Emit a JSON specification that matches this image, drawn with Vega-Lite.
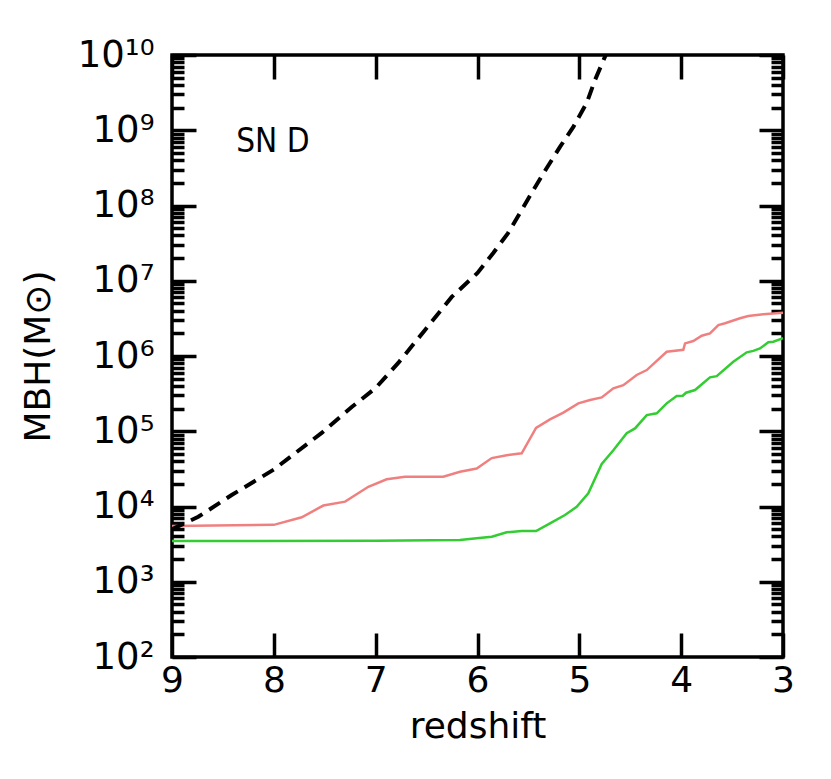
{
  "$schema": "https://vega.github.io/schema/vega-lite/v6.json",
  "width": 611,
  "height": 602,
  "autosize": {"type": "none"},
  "padding": {"left": 172, "top": 55, "right": 48, "bottom": 122},
  "background": "white",
  "config": {
    "view": {"stroke": "black", "strokeWidth": 3.5},
    "font": "DejaVu Sans",
    "axis": {"grid": false, "domain": false}
  },
  "datasets": {
    "curves": [
      {"s": "edd", "z": 9.0, "m": 5000},
      {"s": "edd", "z": 8.742, "m": 7300},
      {"s": "edd", "z": 8.414, "m": 14200},
      {"s": "edd", "z": 8.0, "m": 31000},
      {"s": "edd", "z": 7.792, "m": 51000},
      {"s": "edd", "z": 7.53, "m": 95000},
      {"s": "edd", "z": 7.235, "m": 210000},
      {"s": "edd", "z": 7.0, "m": 376000},
      {"s": "edd", "z": 6.778, "m": 810000},
      {"s": "edd", "z": 6.515, "m": 2220000},
      {"s": "edd", "z": 6.253, "m": 6100000},
      {"s": "edd", "z": 6.0, "m": 12700000},
      {"s": "edd", "z": 5.845, "m": 23400000},
      {"s": "edd", "z": 5.70, "m": 43000000},
      {"s": "edd", "z": 5.566, "m": 87000000},
      {"s": "edd", "z": 5.452, "m": 160000000},
      {"s": "edd", "z": 5.32, "m": 315000000},
      {"s": "edd", "z": 5.19, "m": 600000000},
      {"s": "edd", "z": 5.059, "m": 1110000000},
      {"s": "edd", "z": 4.928, "m": 2300000000},
      {"s": "edd", "z": 4.846, "m": 4660000000},
      {"s": "edd", "z": 4.748, "m": 9500000000},
      {"s": "edd", "z": 4.70, "m": 13000000000},
      {"s": "red", "z": 9.0, "m": 5500},
      {"s": "red", "z": 8.0, "m": 5700},
      {"s": "red", "z": 7.726, "m": 7200},
      {"s": "red", "z": 7.514, "m": 10300},
      {"s": "red", "z": 7.30, "m": 11600},
      {"s": "red", "z": 7.072, "m": 18300},
      {"s": "red", "z": 6.892, "m": 23000},
      {"s": "red", "z": 6.712, "m": 24900},
      {"s": "red", "z": 6.336, "m": 24900},
      {"s": "red", "z": 6.172, "m": 29000},
      {"s": "red", "z": 6.008, "m": 32000},
      {"s": "red", "z": 5.86, "m": 44000},
      {"s": "red", "z": 5.713, "m": 48000},
      {"s": "red", "z": 5.566, "m": 51000},
      {"s": "red", "z": 5.425, "m": 111000},
      {"s": "red", "z": 5.288, "m": 144000},
      {"s": "red", "z": 5.157, "m": 177000},
      {"s": "red", "z": 5.01, "m": 235000},
      {"s": "red", "z": 4.895, "m": 260000},
      {"s": "red", "z": 4.78, "m": 282000},
      {"s": "red", "z": 4.666, "m": 372000},
      {"s": "red", "z": 4.568, "m": 410000},
      {"s": "red", "z": 4.437, "m": 560000},
      {"s": "red", "z": 4.338, "m": 650000},
      {"s": "red", "z": 4.142, "m": 1140000},
      {"s": "red", "z": 3.979, "m": 1210000},
      {"s": "red", "z": 3.962, "m": 1470000},
      {"s": "red", "z": 3.881, "m": 1580000},
      {"s": "red", "z": 3.798, "m": 1860000},
      {"s": "red", "z": 3.717, "m": 2000000},
      {"s": "red", "z": 3.635, "m": 2580000},
      {"s": "red", "z": 3.569, "m": 2720000},
      {"s": "red", "z": 3.422, "m": 3170000},
      {"s": "red", "z": 3.341, "m": 3400000},
      {"s": "red", "z": 3.194, "m": 3580000},
      {"s": "red", "z": 3.0, "m": 3760000},
      {"s": "green", "z": 9.0, "m": 3480},
      {"s": "green", "z": 6.99, "m": 3500},
      {"s": "green", "z": 6.172, "m": 3590},
      {"s": "green", "z": 6.008, "m": 3780},
      {"s": "green", "z": 5.86, "m": 3970},
      {"s": "green", "z": 5.713, "m": 4540},
      {"s": "green", "z": 5.566, "m": 4720},
      {"s": "green", "z": 5.425, "m": 4720},
      {"s": "green", "z": 5.288, "m": 5980},
      {"s": "green", "z": 5.141, "m": 7700},
      {"s": "green", "z": 5.026, "m": 9900},
      {"s": "green", "z": 4.912, "m": 15000},
      {"s": "green", "z": 4.78, "m": 36700},
      {"s": "green", "z": 4.666, "m": 56000},
      {"s": "green", "z": 4.535, "m": 94000},
      {"s": "green", "z": 4.453, "m": 109000},
      {"s": "green", "z": 4.338, "m": 164000},
      {"s": "green", "z": 4.24, "m": 173000},
      {"s": "green", "z": 4.142, "m": 235000},
      {"s": "green", "z": 4.044, "m": 294000},
      {"s": "green", "z": 3.985, "m": 296000},
      {"s": "green", "z": 3.952, "m": 325000},
      {"s": "green", "z": 3.864, "m": 353000},
      {"s": "green", "z": 3.717, "m": 520000},
      {"s": "green", "z": 3.651, "m": 540000},
      {"s": "green", "z": 3.488, "m": 840000},
      {"s": "green", "z": 3.356, "m": 1120000},
      {"s": "green", "z": 3.291, "m": 1170000},
      {"s": "green", "z": 3.226, "m": 1260000},
      {"s": "green", "z": 3.144, "m": 1520000},
      {"s": "green", "z": 3.095, "m": 1550000},
      {"s": "green", "z": 3.0, "m": 1720000}
    ],
    "labels": [
      {"z": 8.37, "m": 514000000, "text": "SN D"}
    ]
  },
  "resolve": {"axis": {"x": "independent", "y": "independent"}},
  "layer": [
    {
      "data": {"name": "curves"},
      "transform": [{"filter": "datum.s === 'red'"}],
      "mark": {"type": "line", "color": "#f08080", "strokeWidth": 2.5, "clip": true},
      "encoding": {
        "x": {
          "field": "z", "type": "quantitative",
          "scale": {"domain": [3, 9], "reverse": true, "nice": false, "zero": false},
          "axis": {
            "orient": "bottom", "values": [3, 4, 5, 6, 7, 8, 9], "format": "d",
            "ticks": false, "labelFontSize": 36, "labelPadding": 6, "labelColor": "black",
            "labelFlush": false,
            "title": "redshift", "titleFontSize": 36, "titleFontWeight": "normal",
            "titleColor": "black", "titlePadding": 11
          }
        },
        "y": {
          "field": "m", "type": "quantitative",
          "scale": {"type": "log", "domain": [100, 10000000000], "nice": false},
          "axis": {
            "orient": "left",
            "values": [100, 1000, 10000, 100000, 1000000, 10000000, 100000000, 1000000000, 10000000000],
            "labelExpr": "'10' + ['⁰','¹','²','³','⁴','⁵','⁶','⁷','⁸','⁹','¹⁰'][round(log(datum.value)/LN10)]",
            "ticks": false, "labelFontSize": 37, "labelPadding": 18, "labelColor": "black",
            "labelFlush": false,
            "title": "MBH(M⊙)", "titleFontSize": 36, "titleFontWeight": "normal",
            "titleColor": "black", "titlePadding": 20
          }
        }
      }
    },
    {
      "data": {"name": "curves"},
      "transform": [{"filter": "datum.s === 'green'"}],
      "mark": {"type": "line", "color": "#33cc33", "strokeWidth": 2.5, "clip": true},
      "encoding": {
        "x": {"field": "z", "type": "quantitative", "axis": null},
        "y": {"field": "m", "type": "quantitative", "axis": null}
      }
    },
    {
      "data": {"name": "curves"},
      "transform": [{"filter": "datum.s === 'edd'"}],
      "mark": {"type": "line", "color": "black", "strokeWidth": 4, "strokeDash": [13, 8], "clip": true},
      "encoding": {
        "x": {"field": "z", "type": "quantitative", "axis": null},
        "y": {"field": "m", "type": "quantitative", "axis": null}
      }
    },
    {
      "data": {"name": "labels"},
      "mark": {"type": "text", "align": "left", "baseline": "alphabetic", "fontSize": 33,
               "font": "Liberation Sans Narrow, DejaVu Sans Condensed, Roboto Condensed, sans-serif", "color": "black"},
      "encoding": {
        "x": {"field": "z", "type": "quantitative", "axis": {
          "orient": "bottom", "values": [3, 4, 5, 6, 7, 8, 9], "labels": false, "title": null,
          "tickSize": -24, "tickWidth": 3.5, "tickColor": "black"}},
        "y": {"field": "m", "type": "quantitative", "axis": {
          "orient": "left", "values": [100, 1000, 10000, 100000, 1000000, 10000000, 100000000, 1000000000, 10000000000],
          "labels": false, "title": null, "tickSize": -24, "tickWidth": 3.5, "tickColor": "black"}},
        "text": {"field": "text"}
      }
    },
    {
      "data": {"name": "labels"},
      "mark": {"type": "point", "opacity": 0},
      "encoding": {
        "x": {"field": "z", "type": "quantitative", "axis": {
          "orient": "top", "values": [3, 4, 5, 6, 7, 8, 9], "labels": false, "title": null,
          "tickSize": -24, "tickWidth": 3.5, "tickColor": "black"}},
        "y": {"field": "m", "type": "quantitative", "axis": {
          "orient": "left",
          "values": [200,300,400,500,600,700,800,900,2000,3000,4000,5000,6000,7000,8000,9000,20000,30000,40000,50000,60000,70000,80000,90000,200000,300000,400000,500000,600000,700000,800000,900000,2000000,3000000,4000000,5000000,6000000,7000000,8000000,9000000,20000000,30000000,40000000,50000000,60000000,70000000,80000000,90000000,200000000,300000000,400000000,500000000,600000000,700000000,800000000,900000000,2000000000,3000000000,4000000000,5000000000,6000000000,7000000000,8000000000,9000000000],
          "labels": false, "title": null, "tickSize": -12, "tickWidth": 3.5, "tickColor": "black"}}
      }
    },
    {
      "data": {"name": "labels"},
      "mark": {"type": "point", "opacity": 0},
      "encoding": {
        "x": {"field": "z", "type": "quantitative", "axis": null},
        "y": {"field": "m", "type": "quantitative", "axis": {
          "orient": "right", "values": [100, 1000, 10000, 100000, 1000000, 10000000, 100000000, 1000000000, 10000000000],
          "labels": false, "title": null, "tickSize": -24, "tickWidth": 3.5, "tickColor": "black"}}
      }
    },
    {
      "data": {"name": "labels"},
      "mark": {"type": "point", "opacity": 0},
      "encoding": {
        "x": {"field": "z", "type": "quantitative", "axis": null},
        "y": {"field": "m", "type": "quantitative", "axis": {
          "orient": "right",
          "values": [200,300,400,500,600,700,800,900,2000,3000,4000,5000,6000,7000,8000,9000,20000,30000,40000,50000,60000,70000,80000,90000,200000,300000,400000,500000,600000,700000,800000,900000,2000000,3000000,4000000,5000000,6000000,7000000,8000000,9000000,20000000,30000000,40000000,50000000,60000000,70000000,80000000,90000000,200000000,300000000,400000000,500000000,600000000,700000000,800000000,900000000,2000000000,3000000000,4000000000,5000000000,6000000000,7000000000,8000000000,9000000000],
          "labels": false, "title": null, "tickSize": -12, "tickWidth": 3.5, "tickColor": "black"}}
      }
    }
  ]
}
